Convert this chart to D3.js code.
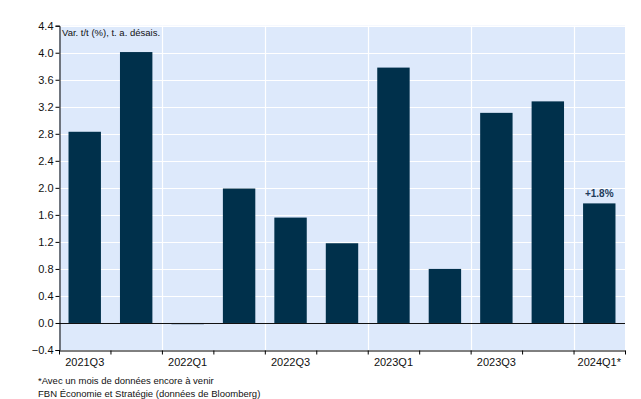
<!DOCTYPE html>
<html>
<head>
<meta charset="utf-8">
<script src="https://cdn.jsdelivr.net/npm/d3@7"></script>
<style>
  body { margin: 0; background: #fff; }
  text { font-family: "Liberation Sans", Arial, sans-serif; }
</style>
</head>
<body>
<script>
(function() {
  'use strict';

  var width = 641,
      height = 399,
      margin = {left: 59, right: 16, top: 25.7, bottom: 49};

  // data
  var quarters = ["2021Q3", "2021Q4", "2022Q1", "2022Q2", "2022Q3", "2022Q4",
                  "2023Q1", "2023Q2", "2023Q3", "2023Q4", "2024Q1*"];
  var growth = [2.83, 4.01, -0.02, 1.99, 1.56, 1.18, 3.78, 0.80, 3.11, 3.28, 1.77];
  var yTicks = [-0.4, 0, 0.4, 0.8, 1.2, 1.6, 2.0, 2.4, 2.8, 3.2, 3.6, 4.0, 4.4];
  var shownLabels = ["2021Q3", "2022Q1", "2022Q3", "2023Q1", "2023Q3", "2024Q1*"];

  var svg = d3.select("body").append("svg")
              .attr("width", width)
              .attr("height", height);

  var x0 = margin.left, x1 = width - margin.right,
      y0 = margin.top,  y1 = height - margin.bottom;

  var x = d3.scaleBand().domain(quarters).range([x0, x1])
            .paddingInner(0.37).paddingOuter(0.185);
  var xEdge = d3.scaleLinear().domain([0, quarters.length]).range([x0, x1]);
  var y = d3.scaleLinear().domain([-0.4, 4.4]).range([y1, y0]);

  // background
  svg.append("rect")
     .attr("x", x0).attr("y", y0)
     .attr("width", x1 - x0).attr("height", y1 - y0)
     .attr("fill", "#dde9fb");

  // horizontal grid
  svg.append("g").selectAll("line").data(yTicks).enter()
     .append("line")
     .attr("x1", x0).attr("x2", x1)
     .attr("y1", function(d) { return Math.round(y(d)) + 0.5; })
     .attr("y2", function(d) { return Math.round(y(d)) + 0.5; })
     .attr("stroke", "#fff").attr("stroke-width", 1.2);

  // vertical grid, every second boundary
  var vEdges = d3.range(2, quarters.length, 2);
  svg.append("g").selectAll("line").data(vEdges).enter()
     .append("line")
     .attr("x1", function(d) { return Math.round(xEdge(d)) + 0.5; })
     .attr("x2", function(d) { return Math.round(xEdge(d)) + 0.5; })
     .attr("y1", y0).attr("y2", y1)
     .attr("stroke", "#fff").attr("stroke-width", 1.2);

  // bars
  svg.append("g").selectAll("rect").data(growth).enter()
     .append("rect")
     .attr("x", function(d, i) { return x(quarters[i]); })
     .attr("width", x.bandwidth())
     .attr("y", function(d) { return y(Math.max(0, d)); })
     .attr("height", function(d) { return Math.abs(y(d) - y(0)); })
     .attr("fill", function(d) { return d < 0 ? "#5a7590" : "#00304b"; });

  // zero line
  svg.append("line")
     .attr("x1", x0).attr("x2", x1)
     .attr("y1", Math.round(y(0)) + 0.5).attr("y2", Math.round(y(0)) + 0.5)
     .attr("stroke", "#111").attr("stroke-width", 1);

  // y axis
  var yAxis = d3.axisLeft(y).tickValues(yTicks)
                .tickFormat(d3.format(".1f")).tickSize(4).tickPadding(2);
  var gy = svg.append("g")
              .attr("transform", "translate(" + (x0 + 0.5) + ",0)")
              .call(yAxis);
  gy.select(".domain").attr("stroke", "#000");
  gy.selectAll("text").attr("font-size", 11).attr("fill", "#111")
    .attr("font-family", "Liberation Sans, Arial, sans-serif");

  // x axis: ticks at category boundaries
  var xAxis = d3.axisBottom(xEdge).tickValues(d3.range(0, quarters.length + 1))
                .tickFormat("").tickSize(4).tickSizeOuter(0);
  var gx = svg.append("g")
              .attr("transform", "translate(0," + (Math.round(y1) + 0.5) + ")")
              .call(xAxis);
  gx.select(".domain").attr("stroke", "#000");

  svg.append("g").selectAll("text").data(shownLabels).enter()
     .append("text")
     .attr("x", function(d) { return x(d) + x.bandwidth() / 2; })
     .attr("y", y1 + 16)
     .attr("text-anchor", "middle")
     .attr("font-size", 11).attr("fill", "#111")
     .text(function(d) { return d; });

  // unit title
  svg.append("text")
     .attr("x", x0 + 3).attr("y", y0 + 10)
     .attr("font-size", 9.5).attr("fill", "#111")
     .text("Var. t/t (%), t. a. désais.");

  // last bar annotation
  var last = quarters.length - 1;
  svg.append("text")
     .attr("x", x(quarters[last]) + x.bandwidth() / 2)
     .attr("y", y(growth[last]) - 6)
     .attr("text-anchor", "middle")
     .attr("font-size", 10).attr("font-weight", "bold")
     .attr("fill", "#1d3c5c")
     .text("+1.8%");

  // notes
  svg.append("text")
     .attr("x", 38).attr("y", 383.5)
     .attr("font-size", 9.5).attr("fill", "#111")
     .text("*Avec un mois de données encore à venir");
  svg.append("text")
     .attr("x", 38).attr("y", 397)
     .attr("font-size", 9.5).attr("fill", "#111")
     .text("FBN Économie et Stratégie (données de Bloomberg)");
})();
</script>
</body>
</html>
